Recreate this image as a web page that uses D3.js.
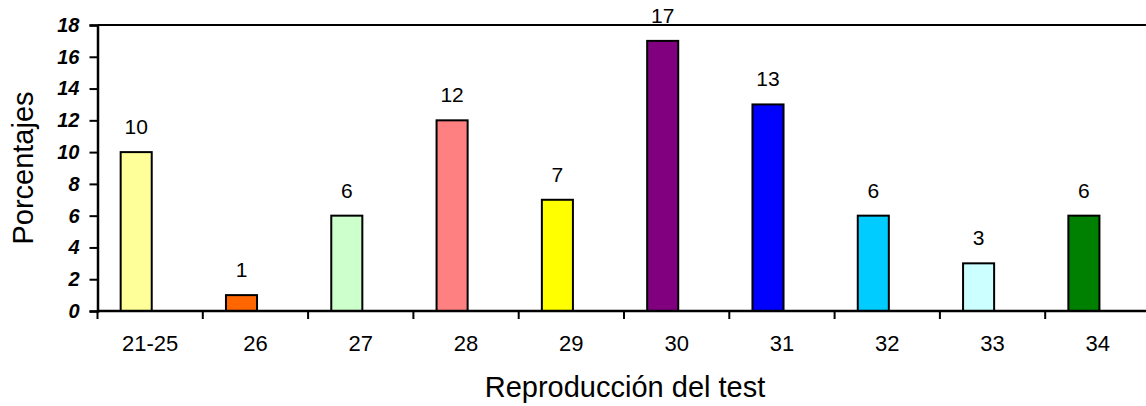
<!DOCTYPE html>
<html><head><meta charset="utf-8">
<script src="https://cdn.jsdelivr.net/npm/d3@7"></script>
<style>
html,body{margin:0;padding:0;background:#fff;overflow:hidden}
svg{display:block}
text{font-family:"Liberation Sans",Arial,sans-serif;fill:#000}
</style></head>
<body><svg id="c" width="1146" height="406"></svg>
<script>
const categories = ["21-25","26","27","28","29","30","31","32","33","34"];
const values = [10,1,6,12,7,17,13,6,3,6];
const colors = ["#FFFF99","#FF6600","#CCFFCC","#FF8080","#FFFF00","#800080","#0000FF","#00CCFF","#CCFFFF","#008000"];
const yTicks = [0,2,4,6,8,10,12,14,16,18];
const xTitle = "Reproducción del test";
const yTitle = "Porcentajes";

const svg = d3.select("#c");
const plotLeft = 97.5, plotRight = 1150.5, plotTop = 25, plotBottom = 311;

const x = d3.scaleBand().domain(categories).range([plotLeft, plotRight]).padding(0);
const y = d3.scaleLinear().domain([0, 18]).range([plotBottom, plotTop]);
const bw = x.bandwidth();

// top border line
svg.append("line").attr("x1", plotLeft).attr("x2", 1146).attr("y1", y(18)).attr("y2", y(18))
  .attr("stroke", "#000").attr("stroke-width", 2);

// bars
svg.selectAll("rect.bar").data(values).enter().append("rect")
  .attr("class", "bar")
  .attr("x", (d, i) => x(categories[i]) + bw * 0.22)
  .attr("width", bw * 0.295)
  .attr("y", d => y(d))
  .attr("height", d => y(0) - y(d))
  .attr("fill", (d, i) => colors[i])
  .attr("stroke", "#000").attr("stroke-width", 2);

// data labels
svg.selectAll("text.lbl").data(values).enter().append("text")
  .attr("class", "lbl")
  .attr("x", (d, i) => x(categories[i]) + bw * 0.22 + bw * 0.295 / 2)
  .attr("y", d => y(d) - 18)
  .attr("text-anchor", "middle")
  .attr("font-size", 21)
  .text(d => d);

// y axis
const yAxis = d3.axisLeft(y).tickValues(yTicks).tickSize(8).tickPadding(10).tickFormat(d3.format("d"));
const yg = svg.append("g").attr("transform", `translate(${plotLeft},0)`).call(yAxis);
yg.select(".domain").attr("stroke", "#000").attr("stroke-width", 2.5);
yg.selectAll(".tick line").attr("stroke", "#000").attr("stroke-width", 2);
yg.selectAll(".tick text").attr("font-size", 20).attr("font-weight", "bold").attr("font-style", "italic")
  .attr("font-family", "Liberation Sans, Arial, sans-serif").attr("fill", "#000");

// x axis
const xTickScale = d3.scaleLinear().domain([0, categories.length]).range([plotLeft, plotRight]);
const xg = svg.append("g").attr("transform", `translate(0,${plotBottom})`);
xg.append("line").attr("x1", plotLeft).attr("x2", 1146).attr("y1", 0).attr("y2", 0)
  .attr("stroke", "#000").attr("stroke-width", 2.5);
xg.selectAll("line.t").data(d3.range(categories.length + 1)).enter().append("line")
  .attr("class", "t")
  .attr("x1", d => xTickScale(d)).attr("x2", d => xTickScale(d))
  .attr("y1", 0).attr("y2", 8).attr("stroke", "#000").attr("stroke-width", 2);
xg.selectAll("text.xl").data(categories).enter().append("text")
  .attr("class", "xl")
  .attr("x", d => x(d) + bw / 2)
  .attr("y", 40)
  .attr("text-anchor", "middle")
  .attr("font-size", 22)
  .text(d => d);

// axis titles
svg.append("text").attr("x", 625).attr("y", 397)
  .attr("text-anchor", "middle").attr("font-size", 29).text(xTitle);
svg.append("text").attr("transform", `translate(33,168) rotate(-90)`)
  .attr("text-anchor", "middle").attr("font-size", 29).text(yTitle);
</script></body></html>
